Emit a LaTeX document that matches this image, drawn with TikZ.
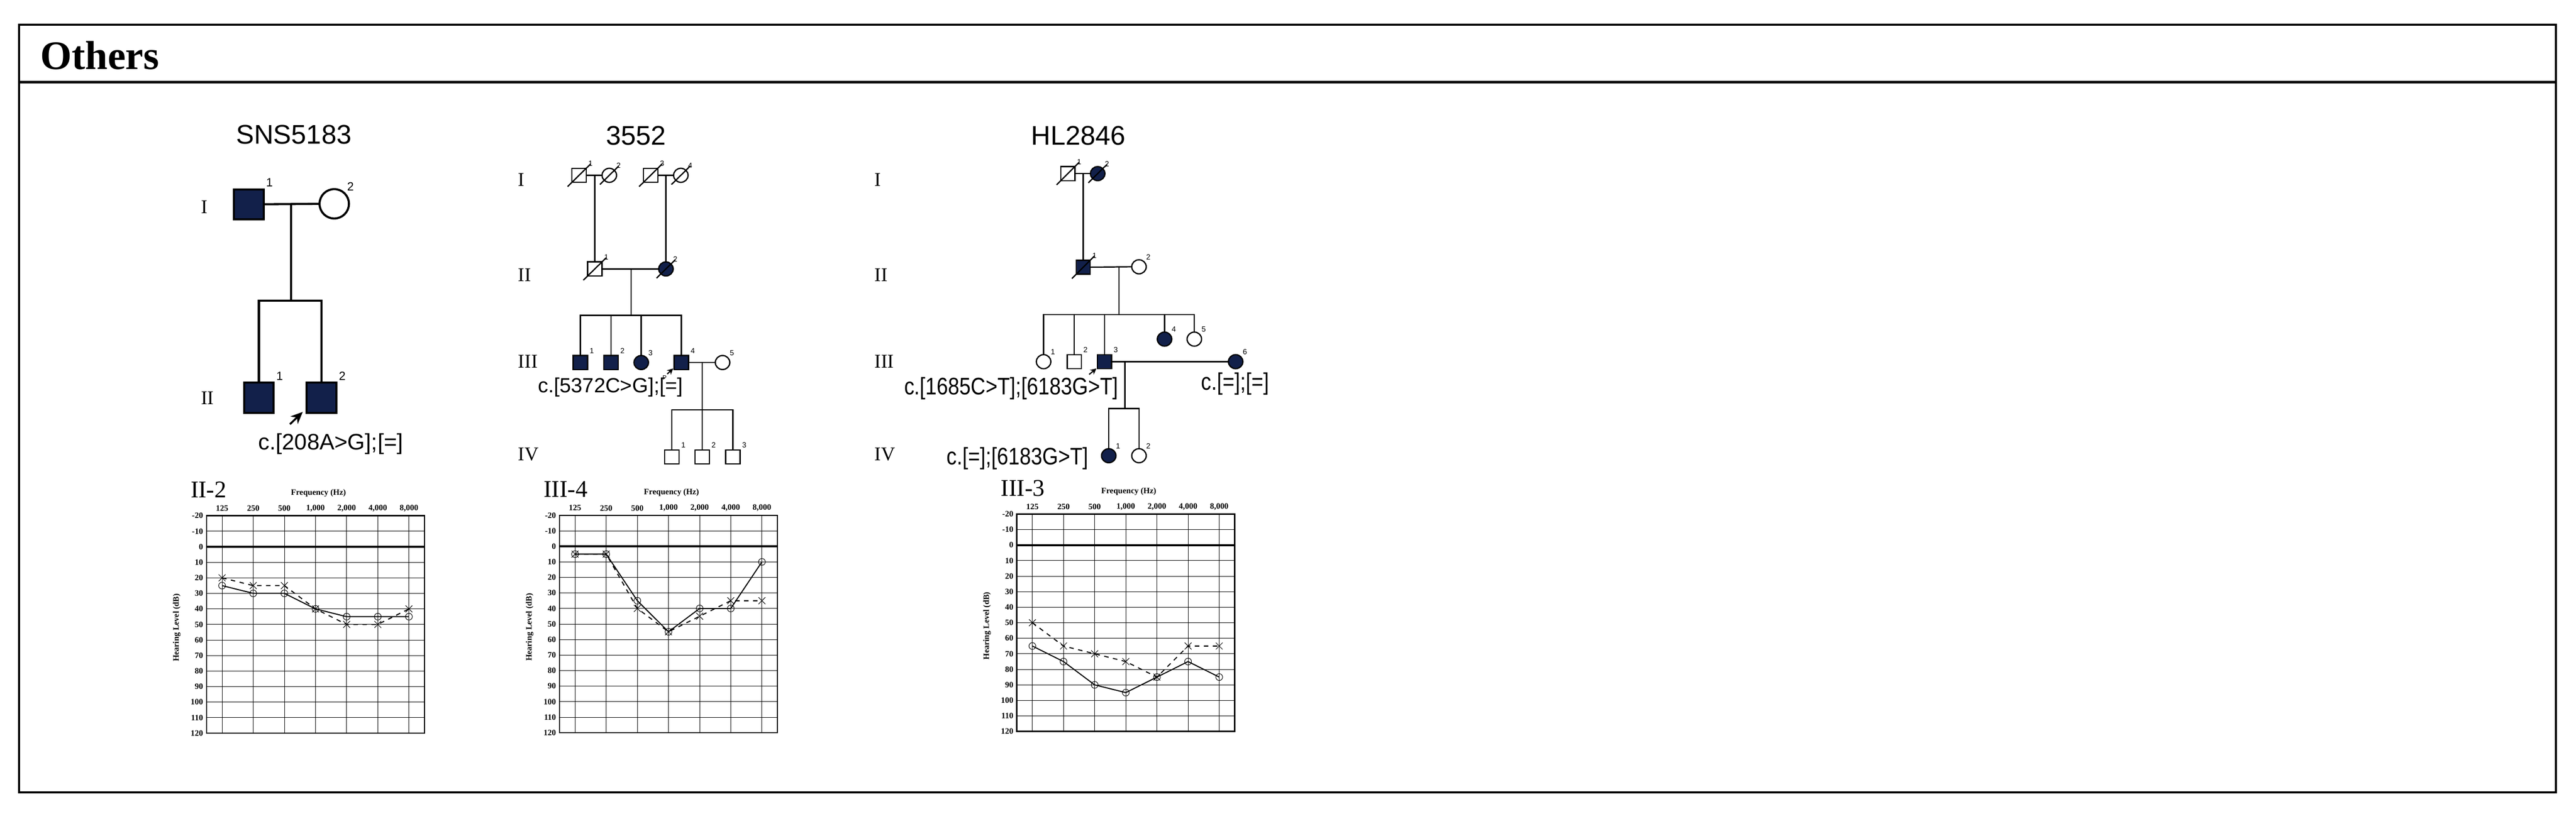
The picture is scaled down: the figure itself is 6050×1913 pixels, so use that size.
\documentclass[tikz,border=0pt]{standalone}
\usepackage{fontspec}
\setmainfont{Liberation Serif}
\setsansfont{Liberation Sans}
\usetikzlibrary{shapes.geometric,arrows.meta}
\definecolor{navy}{HTML}{12204A}
\newcommand\fsz[1]{\fontsize{#1}{#1}\selectfont}
\tikzset{
  ped/.style={draw, inner sep=0pt, outer sep=0pt},
  aff/.style={fill=navy},
  gen/.style={font=\fsz{13pt}\rmfamily, anchor=west},
  numA/.style={font=\fsz{8pt}\sffamily, anchor=south west, inner sep=1pt},
  numB/.style={font=\fsz{5pt}\sffamily, anchor=south west, inner sep=1pt},
  mut/.style={font=\fsz{15pt}\sffamily},
  mutc/.style={font=\fsz{16pt}\sffamily, xscale=0.85},
  ttl/.style={font=\fsz{18pt}\sffamily},
  axl/.style={font=\fsz{5.5pt}\rmfamily\bfseries},
}
\newcommand\deadmark[1]{\draw ([shift={(-10,10)}]#1.south west) -- ([shift={(10,-10)}]#1.north east);}
\newcommand\audiogram[5]{%
\begin{scope}[shift={(#1,#2)}]
  \foreach \i in {0,...,6} \draw[line width=0.3pt] ({36.6+73.14*\i},0) -- ({36.6+73.14*\i},511);
  \foreach \k in {1,...,13} \draw[line width=0.3pt] (0,{36.5*\k}) -- (512,{36.5*\k});
  \draw[line width=0.9pt] (0,0) rectangle (512,511);
  \draw[line width=1.3pt] (0,73) -- (512,73);
  \foreach \v in {-20,-10,0,10,20,30,40,50,60,70,80,90,100,110,120}
    \node[axl, anchor=east, inner sep=1pt] at (-4,{(\v+20)*3.65}) {\v};
  \foreach \f [count=\i from 0] in {125,250,500,{1,000},{2,000},{4,000},{8,000}}
    \node[axl] at ({36.6+73.14*\i},-17) {\f};
  \node[axl] at (263,-53) {Frequency (Hz)};
  \node[font=\fsz{16pt}\rmfamily, anchor=west, inner sep=0pt] at (-38,-61) {#3};
  \node[axl, rotate=90] at (-70,263) {Hearing Level (dB)};
  \foreach \v [count=\i from 0] in {#4} \coordinate (O\i) at ({36.6+73.14*\i},{(\v+20)*3.65});
  \foreach \v [count=\i from 0] in {#5} \coordinate (X\i) at ({36.6+73.14*\i},{(\v+20)*3.65});
  \draw[line width=0.7pt] (O0)--(O1)--(O2)--(O3)--(O4)--(O5)--(O6);
  \draw[line width=0.7pt, dashed] (X0)--(X1)--(X2)--(X3)--(X4)--(X5)--(X6);
  \foreach \i in {0,...,6} {
    \draw[line width=0.35pt] (O\i) circle (8);
    \draw[line width=0.35pt] (X\i) +(-8,-8) -- +(8,8) +(-8,8) -- +(8,-8);
  }
\end{scope}}
\begin{document}
\begin{tikzpicture}[x=0.01cm, y=-0.01cm]
\useasboundingbox (0,0) rectangle (6050,1913);
\fill[white] (0,0) rectangle (6050,1913);
% frame
\draw[line width=1.4pt] (45,58) rectangle (6003,1862);
\draw[line width=1.4pt] (45,193) -- (6003,193);
\node[font=\fsz{27pt}\rmfamily\bfseries, anchor=base west, inner sep=0pt] (hdr) at (94,163) {Others};

% ===== SNS5183 =====
\begin{scope}[line width=1.4pt]
\node[ttl] (t1) at (690,317) {SNS5183};
\node[gen] (g1a) at (458,487) {I};
\node[gen] (g1b) at (458,935) {II};
\node[ped, rectangle, aff, minimum width=0.70cm, minimum height=0.70cm] (sI1) at (584,480) {};
\node[ped, ellipse, minimum width=0.69cm, minimum height=0.69cm] (sI2) at (785,479) {};
\node[ped, rectangle, aff, minimum width=0.70cm, minimum height=0.71cm] (sII1) at (608,935) {};
\node[ped, rectangle, aff, minimum width=0.70cm, minimum height=0.71cm] (sII2) at (755,935) {};
\draw (sI1.east) -- (sI2.west);
\coordinate (sm) at (684,479);
\coordinate (sj) at (684,707);
\draw (sm) -- (sj);
\draw (sII1.north) |- (sj) -| (sII2.north);
\node[numA] at (sI1.north east) {1};
\node[numA] at (sI2.north east) {2};
\node[numA] at (sII1.north east) {1};
\node[numA] at (sII2.north east) {2};
\coordinate (sa) at (681,997);
\draw[-{Stealth[length=8pt,width=7pt]}, line width=1.3pt] (sa) -- (711,968);
\node[mut] (m1) at (777,1043) {c.[208A>G];[=]};
\end{scope}

% ===== 3552 =====
\begin{scope}[line width=0.85pt]
\node[ttl] (t2) at (1494,319) {3552};
\node[gen] (g2a) at (1204,422) {I};
\node[gen] (g2b) at (1204,646) {II};
\node[gen] (g2c) at (1204,850) {III};
\node[gen] (g2d) at (1204,1068) {IV};
\tikzset{sqb/.style={ped, rectangle, minimum width=0.34cm, minimum height=0.33cm},
         cib/.style={ped, ellipse, minimum width=0.34cm, minimum height=0.33cm}}
\node[sqb] (aI1) at (1360,412) {};
\node[cib] (aI2) at (1431,412) {};
\node[sqb] (aI3) at (1528,412) {};
\node[cib] (aI4) at (1599,412) {};
\node[sqb] (aII1) at (1397,632) {};
\node[cib, aff] (aII2) at (1564,632) {};
\node[sqb, aff] (aIII1) at (1363,852) {};
\node[sqb, aff] (aIII2) at (1435,852) {};
\node[cib, aff] (aIII3) at (1506,852) {};
\node[sqb, aff] (aIII4) at (1600,852) {};
\node[cib] (aIII5) at (1697,852) {};
\node[sqb] (aIV1) at (1578,1074) {};
\node[sqb] (aIV2) at (1649,1074) {};
\node[sqb] (aIV3) at (1721,1074) {};
\draw (aI1.east) -- (aI2.west);
\draw (aI3.east) -- (aI4.west);
\coordinate (am1) at (1397,412);
\coordinate (am2) at (1564,412);
\draw (am1) -- (aII1.north);
\draw (am2) -- (aII2.north);
\draw (aII1.east) -- (aII2.west);
\coordinate (am3) at (1482,632);
\coordinate (aj3) at (1482,741);
\draw (am3) -- (aj3);
\draw (aIII1.north) |- (aj3) -| (aIII4.north);
\draw (aIII2.north) -- (aIII2.north |- aj3);
\draw (aIII3.north) -- (aIII3.north |- aj3);
\draw (aIII4.east) -- (aIII5.west);
\coordinate (am4) at (1649,852);
\coordinate (aj4) at (1649,963);
\draw (am4) -- (aj4);
\draw (aIV1.north) |- (aj4) -| (aIV3.north);
\draw (aIV2.north) -- (aj4);
\foreach \n in {aI1,aI2,aI3,aI4,aII1,aII2} {\deadmark{\n}}
\foreach \n/\t in {aI1/1,aI2/2,aI3/3,aI4/4,aII1/1,aII2/2,aIII1/1,aIII2/2,aIII3/3,aIII4/4,aIII5/5,aIV1/1,aIV2/2,aIV3/3}
  \node[numB] at (\n.north east) {\t};
\coordinate (aa) at (1567,879);
\draw[-{Stealth[length=4pt,width=4pt]}, line width=0.8pt] (aa) -- (1581,866);
\node[font=\fsz{4pt}\sffamily] (ap) at (1561,888) {P};
\node[mut, font=\fsz{13.7pt}\sffamily] (m2) at (1434,910) {c.[5372C>G];[=]};
\end{scope}

% ===== HL2846 =====
\begin{scope}[line width=0.85pt]
\node[ttl] (t3) at (2533,319) {HL2846};
\node[gen] (g3a) at (2041,422) {I};
\node[gen] (g3b) at (2041,646) {II};
\node[gen] (g3c) at (2041,850) {III};
\node[gen] (g3d) at (2041,1068) {IV};
\tikzset{sqc/.style={ped, rectangle, minimum width=0.33cm, minimum height=0.33cm},
         cic/.style={ped, ellipse, minimum width=0.34cm, minimum height=0.33cm}}
\node[sqc] (hI1) at (2508,408) {};
\node[cic, aff] (hI2) at (2578,408) {};
\node[sqc, aff] (hII1) at (2544,628) {};
\node[cic] (hII2) at (2675,627) {};
\node[cic] (hIII1) at (2451,850) {};
\node[sqc] (hIII2) at (2523,850) {};
\node[sqc, aff] (hIII3) at (2594,850) {};
\node[cic, aff] (hIII4) at (2735,797) {};
\node[cic] (hIII5) at (2805,797) {};
\node[cic, aff] (hIII6) at (2902,850) {};
\node[cic, aff] (hIV1) at (2604,1071) {};
\node[cic] (hIV2) at (2675,1071) {};
\draw (hI1.east) -- (hI2.west);
\coordinate (hm1) at (2544,408);
\draw (hm1) -- (hII1.north);
\draw (hII1.east) -- (hII2.west);
\coordinate (hm2) at (2628,627);
\coordinate (hj2) at (2628,739);
\draw (hm2) -- (hj2);
\draw (hIII1.north) |- (hj2) -| (hIII5.north);
\draw (hIII2.north) -- (hIII2.north |- hj2);
\draw (hIII3.north) -- (hIII3.north |- hj2);
\draw (hIII4.north) -- (hIII4.north |- hj2);
\draw (hIII3.east) -- (hIII6.west);
\coordinate (hm3) at (2642,850);
\coordinate (hj3) at (2642,960);
\draw (hm3) -- (hj3);
\draw (hIV1.north) |- (hj3) -| (hIV2.north);
\foreach \n in {hI1,hI2,hII1} {\deadmark{\n}}
\foreach \n/\t in {hI1/1,hI2/2,hII1/1,hII2/2,hIII1/1,hIII2/2,hIII3/3,hIII4/4,hIII5/5,hIII6/6,hIV1/1,hIV2/2}
  \node[numB] at (\n.north east) {\t};
\coordinate (ha) at (2558,880);
\draw[-{Stealth[length=4pt,width=4pt]}, line width=0.8pt] (ha) -- (2575,866);
\node[mutc] (m3) at (2375,913) {c.[1685C>T];[6183G>T]};
\node[mutc] (m4) at (2901,902) {c.[=];[=]};
\node[mutc] (m5) at (2390,1077) {c.[=];[6183G>T]};
\end{scope}

% ===== audiograms =====
\audiogram{485}{1212}{II-2}{25,30,30,40,45,45,45}{20,25,25,40,50,50,40}
\audiogram{1314}{1211}{III-4}{5,5,35,55,40,40,10}{5,5,40,55,45,35,35}
\audiogram{2388}{1208}{III-3}{65,75,90,95,85,75,85}{50,65,70,75,85,65,65}
\end{tikzpicture}
\end{document}
